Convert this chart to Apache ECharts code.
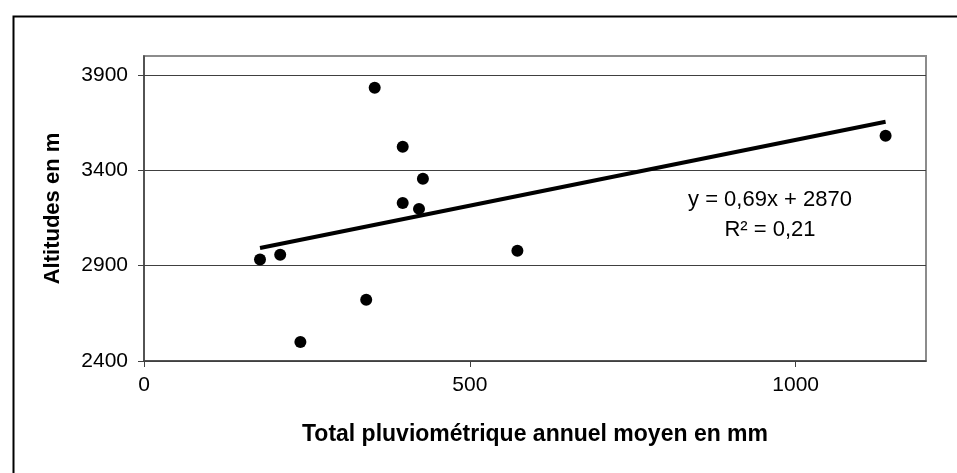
<!DOCTYPE html>
<html>
<head>
<meta charset="utf-8">
<script src="https://cdn.jsdelivr.net/npm/echarts@6/dist/echarts.min.js"></script>
<style>
  html, body { margin: 0; padding: 0; background: #fff; }
  #chart { width: 957px; height: 473px; }
</style>
</head>
<body>
<div id="chart"></div>
<script>
// stations : pluie annuelle (mm) et altitude (m)
const rainfall = [178, 209, 240, 341, 354, 397, 397, 422, 428, 573, 1138]
const altitude = [2932, 2957, 2500, 2721, 3833, 3524, 3229, 3198, 3356, 2978, 3582]

// droite de tendance (extrémités)
const trendX = [178, 1138]
const trendY = [2993, 3655]

const xTicks = [0, 500, 1000]
const yTicks = [2400, 2900, 3400, 3900]

const equationText = 'y = 0,69x + 2870'
const r2Text = 'R² = 0,21'

const font = 'Liberation Sans, Arial, sans-serif'

const chart = echarts.init(document.getElementById('chart'))

chart.setOption({
  animation: false,
  backgroundColor: '#fff',
  grid: {
    left: 144,
    top: 56,
    right: 31,
    bottom: 112,
    show: true,
    borderColor: '#8c8c8c',
    borderWidth: 2
  },
  xAxis: {
    type: 'value',
    min: 0,
    max: 1200,
    interval: 500,
    name: 'Total pluviométrique annuel moyen en mm',
    nameLocation: 'middle',
    nameGap: 62,
    nameTextStyle: { fontFamily: font, fontSize: 23, fontWeight: 'bold', color: '#000' },
    axisLine: { show: true, lineStyle: { color: '#404040', width: 1.5 } },
    axisTick: { show: true, length: 6, customValues: xTicks, lineStyle: { color: '#404040' } },
    axisLabel: {
      customValues: xTicks, margin: 14, fontFamily: font, fontSize: 21, color: '#000',
      formatter: v => String(v)
    },
    splitLine: { show: false }
  },
  yAxis: {
    type: 'value',
    min: 2400,
    max: 4000,
    interval: 500,
    name: 'Altitudes en m',
    nameLocation: 'middle',
    nameGap: 80,
    nameTextStyle: { fontFamily: font, fontSize: 22, fontWeight: 'bold', color: '#000' },
    axisLine: { show: true, lineStyle: { color: '#404040', width: 1.5 } },
    axisTick: { show: true, length: 6, customValues: yTicks, lineStyle: { color: '#404040' } },
    axisLabel: {
      customValues: yTicks, margin: 16, fontFamily: font, fontSize: 21, color: '#000',
      formatter: v => String(v)
    },
    splitLine: { show: true, lineStyle: { color: '#404040', width: 1 } }
  },
  series: [
    {
      type: 'line',
      data: trendX.map((x, i) => [x, trendY[i]]),
      symbol: 'none',
      lineStyle: { color: '#000', width: 4 },
      z: 2
    },
    {
      type: 'scatter',
      data: rainfall.map((x, i) => [x, altitude[i]]),
      symbol: 'circle',
      symbolSize: 12,
      itemStyle: { color: '#000', opacity: 1 },
      z: 3
    }
  ],
  graphic: [
    {
      type: 'rect',
      left: 11,
      top: 14,
      shape: { width: 1000, height: 500 },
      style: { fill: 'none', stroke: '#000', lineWidth: 2 },
      silent: true
    },
    {
      type: 'text',
      x: 770,
      y: 200,
      style: {
        text: equationText,
        font: '22px ' + font,
        fill: '#000',
        align: 'center',
        verticalAlign: 'middle'
      }
    },
    {
      type: 'text',
      x: 770,
      y: 230,
      style: {
        text: r2Text,
        font: '22px ' + font,
        fill: '#000',
        align: 'center',
        verticalAlign: 'middle'
      }
    }
  ]
})
</script>
</body>
</html>
